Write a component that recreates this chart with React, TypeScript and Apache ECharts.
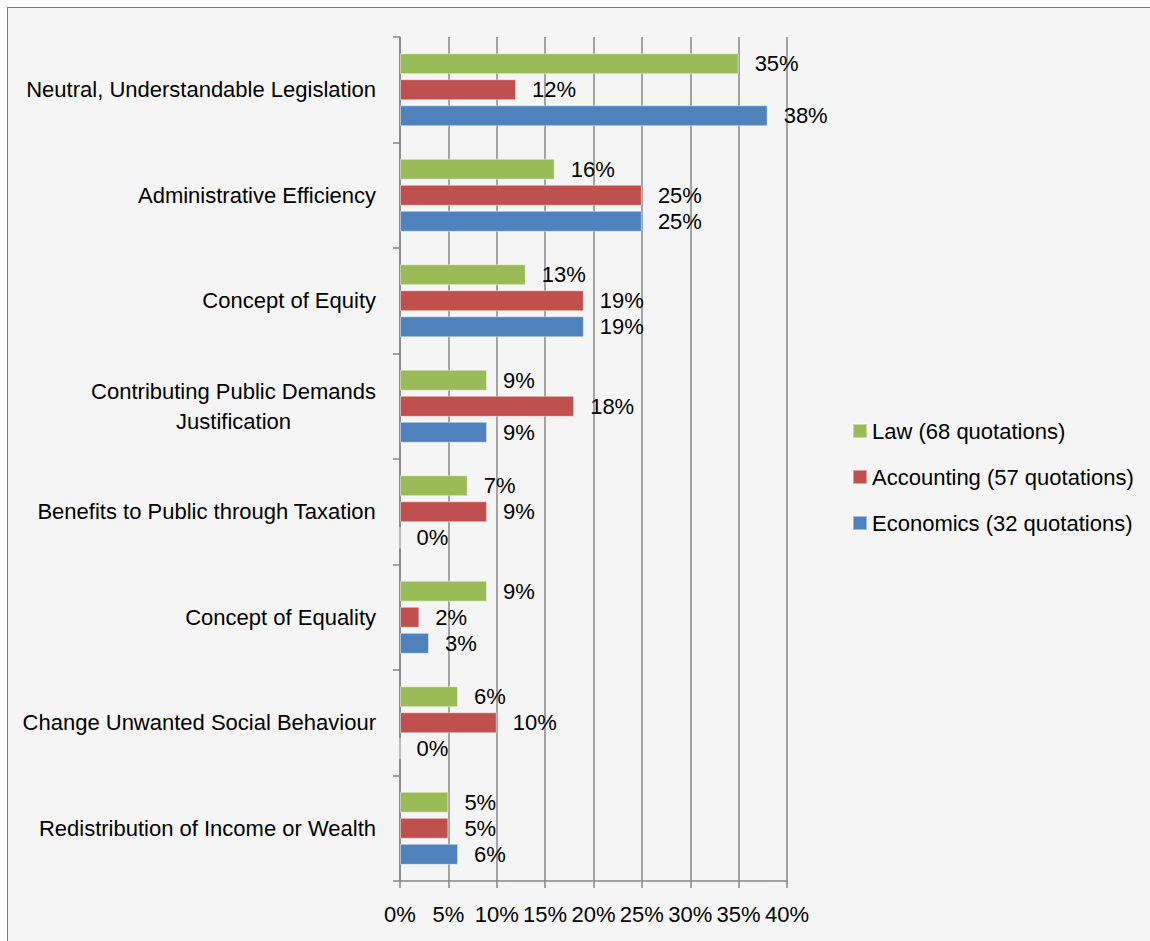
import React, { useEffect, useRef } from "react";
import * as echarts from "echarts";

const categories = [
  "Neutral, Understandable Legislation",
  "Administrative Efficiency",
  "Concept of Equity",
  "Contributing Public Demands\nJustification",
  "Benefits to Public through Taxation",
  "Concept of Equality",
  "Change Unwanted Social Behaviour",
  "Redistribution of Income or Wealth",
];
const lawValues = [35, 16, 13, 9, 7, 9, 6, 5];
const accountingValues = [12, 25, 19, 18, 9, 2, 10, 5];
const economicsValues = [38, 25, 19, 9, 0, 3, 0, 6];
const seriesNames = ["Law (68 quotations)", "Accounting (57 quotations)", "Economics (32 quotations)"];
const seriesColors = ["#9BBB59", "#C0504D", "#4F81BD"];
const xTicks = [0, 5, 10, 15, 20, 25, 30, 35, 40];

const FONT = "'Liberation Sans', Arial, sans-serif";
const FS = 22;
const LINE = "#878787";

export default function App() {
  const ref = useRef<HTMLDivElement>(null);
  useEffect(() => {
    if (!ref.current) return;
    const chart = echarts.init(ref.current, undefined, { renderer: "svg" });
    const data = [lawValues, accountingValues, economicsValues];
    chart.setOption({
      animation: false,
      backgroundColor: "transparent",
      textStyle: { fontFamily: FONT },
      grid: { left: 392, top: 29, right: 363, bottom: 60, outerBoundsMode: "none", containLabel: false },
      legend: {
        orient: "vertical",
        left: 839,
        top: 407,
        itemWidth: 14,
        itemHeight: 14,
        itemGap: 24,
        icon: "rect",
        data: seriesNames,
        textStyle: { fontSize: FS, color: "#000", fontFamily: FONT },
      },
      xAxis: {
        type: "value",
        min: xTicks[0],
        max: xTicks[xTicks.length - 1],
        interval: 5,
        axisLine: { show: true, lineStyle: { color: LINE, width: 1.5 } },
        axisTick: { show: true, length: 7, lineStyle: { color: LINE, width: 1.5 } },
        splitLine: { show: true, lineStyle: { color: LINE, width: 1.5 } },
        axisLabel: {
          formatter: "{value}%",
          fontSize: FS,
          color: "#000",
          margin: 22,
          fontFamily: FONT,
        },
      },
      yAxis: {
        type: "category",
        inverse: true,
        data: categories,
        axisLine: { show: true, lineStyle: { color: LINE, width: 1.5 } },
        axisTick: { show: true, length: 7, lineStyle: { color: LINE, width: 1.5 } },
        splitLine: { show: false },
        axisLabel: {
          margin: 24,
          color: "#000",
          fontSize: FS,
          fontFamily: FONT,
          lineHeight: 30,
          formatter: (v: string) =>
            v
              .split("\n")
              .map((l) => `{c|${l}}`)
              .join("\n"),
          rich: {
            c: { align: "center", fontSize: FS, lineHeight: 30, color: "#000", fontFamily: FONT },
          },
        },
      },
      series: seriesNames.map((name, i) => ({
        name,
        type: "bar",
        data: data[i],
        barWidth: 21,
        barGap: "24%",
        itemStyle: {
          color: seriesColors[i],
          borderColor: "rgba(255,255,255,0.45)",
          borderWidth: 1,
        },
        label: {
          show: true,
          position: "right",
          distance: 16,
          formatter: "{c}%",
          fontSize: FS,
          color: "#000",
          fontFamily: FONT,
        },
      })),
    });
    return () => chart.dispose();
  }, []);

  return (
    <div
      style={{
        position: "fixed",
        left: 7,
        top: 7,
        right: 0,
        bottom: 0,
        background: "#f5f5f5",
        borderTop: "1px solid #7a7a7a",
        borderLeft: "1px solid #7a7a7a",
        boxSizing: "border-box",
        overflow: "hidden",
      }}
    >
      <div ref={ref} style={{ position: "absolute", left: 0, top: 0, width: 1142, height: 933 }} />
    </div>
  );
}
